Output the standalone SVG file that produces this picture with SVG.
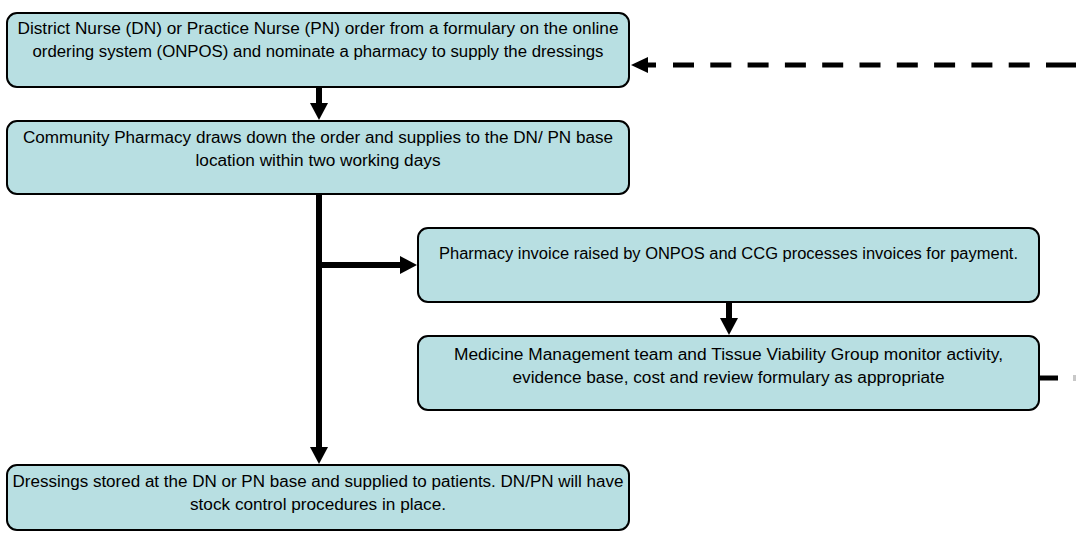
<svg xmlns="http://www.w3.org/2000/svg" width="1076" height="533" viewBox="0 0 1076 533">
<style>
  .box { fill: #b8dfe2; stroke: #000; stroke-width: 2; }
  .t { font-family: "Liberation Sans", Arial, sans-serif; font-size: 16px; fill: #000; text-anchor: middle; }
  .conn { stroke: #000; stroke-width: 6; fill: none; }
  .dash { stroke: #000; stroke-width: 5; fill: none; }
</style>
<defs>
  <marker id="arr" markerUnits="userSpaceOnUse" viewBox="0 -9 18 18" refX="1" refY="0" markerWidth="18" markerHeight="18" orient="auto">
    <path d="M0,-9 L17,0 L0,9 z" fill="#000"/>
  </marker>
  <marker id="arr2" markerUnits="userSpaceOnUse" viewBox="0 -8 17 16" refX="1" refY="0" markerWidth="17" markerHeight="16" orient="auto">
    <path d="M0,-8 L17,0 L0,8 z" fill="#000"/>
  </marker>
</defs>

<g id="connectors">
  <line class="conn" x1="319" y1="87" x2="319" y2="104" marker-end="url(#arr)"/>
  <line class="conn" x1="319" y1="194" x2="319" y2="448" marker-end="url(#arr)"/>
  <line class="conn" x1="316" y1="265" x2="401" y2="265" marker-end="url(#arr)"/>
  <line class="conn" x1="729" y1="302" x2="729" y2="319" marker-end="url(#arr)"/>
  <line class="dash" x1="1039" y1="378" x2="1058" y2="378"/>
  <rect x="1073" y="375" width="3" height="6" fill="#c8c8c8"/>
  <line class="dash" x1="656" y1="65" x2="647" y2="65" marker-end="url(#arr2)"/>
  <line class="dash" x1="673" y1="65" x2="1030" y2="65" stroke-dasharray="21 16.3"/>
  <line class="dash" x1="1046" y1="65" x2="1076" y2="65"/>
</g>

<g id="node-order">
  <rect class="box" x="7" y="13" width="622" height="74" rx="10"/>
  <text class="t" x="318" y="34" textLength="601" lengthAdjust="spacingAndGlyphs">District Nurse (DN) or Practice Nurse (PN) order from a formulary on the online</text>
  <text class="t" x="318" y="57" textLength="571" lengthAdjust="spacingAndGlyphs">ordering system (ONPOS) and nominate a pharmacy to supply the dressings</text>
</g>

<g id="node-pharmacy">
  <rect class="box" x="7" y="121" width="622" height="73" rx="10"/>
  <text class="t" x="318" y="143" textLength="590" lengthAdjust="spacingAndGlyphs">Community Pharmacy draws down the order and supplies to the DN/ PN base</text>
  <text class="t" x="318" y="166" textLength="245" lengthAdjust="spacingAndGlyphs">location within two working days</text>
</g>

<g id="node-invoice">
  <rect class="box" x="418" y="228" width="621" height="74" rx="10"/>
  <text class="t" x="728.5" y="259" textLength="579" lengthAdjust="spacingAndGlyphs">Pharmacy invoice raised by ONPOS and CCG processes invoices for payment.</text>
</g>

<g id="node-monitor">
  <rect class="box" x="418" y="336" width="621" height="74" rx="10"/>
  <text class="t" x="728.5" y="360" textLength="549" lengthAdjust="spacingAndGlyphs">Medicine Management team and Tissue Viability Group monitor activity,</text>
  <text class="t" x="728.5" y="383" textLength="432" lengthAdjust="spacingAndGlyphs">evidence base, cost and review formulary as appropriate</text>
</g>

<g id="node-stored">
  <rect class="box" x="7" y="465" width="622" height="65" rx="10"/>
  <text class="t" x="318" y="487" textLength="611" lengthAdjust="spacingAndGlyphs">Dressings stored at the DN or PN base and supplied to patients. DN/PN will have</text>
  <text class="t" x="318" y="510" textLength="256" lengthAdjust="spacingAndGlyphs">stock control procedures in place.</text>
</g>
</svg>
